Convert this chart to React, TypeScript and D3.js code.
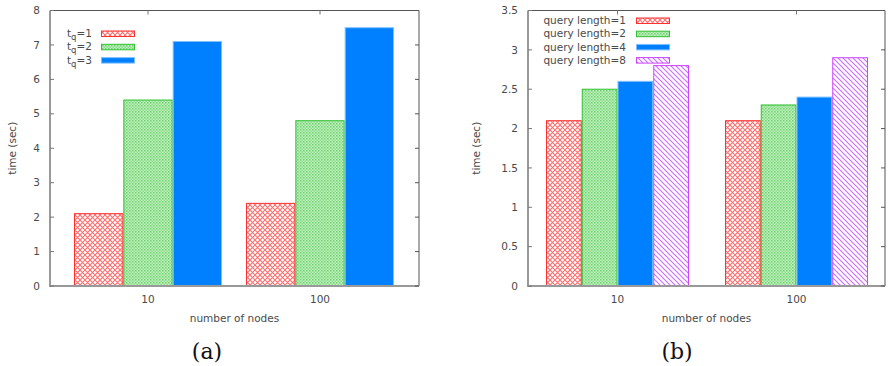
import React from "react";
import * as d3 from "d3";

const categories = ["10", "100"];
const seriesA = ["1", "2", "3"];
const valuesA = [
  [2.1, 2.4],
  [5.4, 4.8],
  [7.1, 7.5],
];
const ticksA = [0, 1, 2, 3, 4, 5, 6, 7, 8];

const seriesB = ["query length=1", "query length=2", "query length=4", "query length=8"];
const valuesB = [
  [2.1, 2.1],
  [2.5, 2.3],
  [2.6, 2.4],
  [2.8, 2.9],
];
const ticksB = [0, 0.5, 1, 1.5, 2, 2.5, 3, 3.5];

const FILLS = ["url(#pRed)", "url(#pGreen)", "#0080ff", "url(#pPurple)"];
const STROKES = ["#ff3030", "#33c033", "#80c0ff", "#cc44ff"];
const FONT = "'DejaVu Sans', sans-serif";
const TXT = "#4a4a4a";

type PanelProps = {
  left: number; right: number; top: number; bottom: number;
  yMax: number; ticks: number[]; values: number[][];
  centers: [number, number]; groupW: number;
  legendTextX: number; legendSwX: number; legendY0: number; legendDy: number;
  legend: (i: number) => React.ReactNode;
  ylabelX: number; caption: string; captionX: number;
  fills: string[]; strokes: string[];
};

function Panel(p: PanelProps) {
  const y = d3.scaleLinear().domain([0, p.yMax]).range([p.bottom, p.top]);
  const xc = d3.scaleLinear().domain([0, 1]).range(p.centers);
  const inner = d3.scaleBand<number>().domain(d3.range(p.values.length)).range([-p.groupW / 2, p.groupW / 2]);
  const fmt = (v: number) => String(v);
  const midY = (p.top + p.bottom) / 2;
  return (
    <g fontFamily={FONT} fontSize={10.5} fill={TXT}>
      {p.values.map((vals, si) =>
        vals.map((v, ci) => (
          <rect key={`${si}-${ci}`}
            x={xc(ci) + (inner(si) as number) + 0.5}
            y={y(v)}
            width={inner.bandwidth() - 1}
            height={y(0) - y(v)}
            fill={p.fills[si]} stroke={p.strokes[si]} strokeWidth={1} />
        ))
      )}
      <line x1={p.left} x2={p.right} y1={p.top} y2={p.top} stroke="#555" strokeWidth={1} />
      <line x1={p.right} x2={p.right} y1={p.top} y2={p.bottom} stroke="#555" strokeWidth={1} />
      <line x1={p.left} x2={p.left} y1={p.top} y2={p.bottom + 1} stroke="#999" strokeWidth={2} />
      <line x1={p.left - 1} x2={p.right} y1={p.bottom} y2={p.bottom} stroke="#999" strokeWidth={2} />
      {p.ticks.map((t) => (
        <g key={t}>
          <line x1={p.left} x2={p.left + 4} y1={y(t)} y2={y(t)} stroke="#777" />
          <line x1={p.right - 4} x2={p.right} y1={y(t)} y2={y(t)} stroke="#555" />
          <text x={p.left - 10} y={y(t)} dy="0.35em" textAnchor="end">{fmt(t)}</text>
        </g>
      ))}
      {categories.map((c, i) => (
        <g key={c}>
          <line x1={xc(i)} x2={xc(i)} y1={p.top} y2={p.top + 4} stroke="#777" />
          <text x={xc(i)} y={p.bottom + 13} dy="0.35em" textAnchor="middle">{c}</text>
        </g>
      ))}
      <text x={(p.left + p.right) / 2} y={p.bottom + 32} dy="0.35em" textAnchor="middle">number of nodes</text>
      <text transform={`translate(${p.ylabelX},${midY}) rotate(-90)`} dy="0.35em" textAnchor="middle">time (sec)</text>
      {p.values.map((_, si) => {
        const ly = p.legendY0 + si * p.legendDy;
        return (
          <g key={si}>
            <text x={p.legendTextX} y={ly} dy="0.35em" textAnchor="end">{p.legend(si)}</text>
            <rect x={p.legendSwX} y={ly - 2.5} width={33} height={5.5} fill={p.fills[si]} stroke={p.strokes[si]} />
          </g>
        );
      })}
      <text x={p.captionX} y={359} textAnchor="middle" fontFamily="'DejaVu Serif', 'Liberation Serif', serif" fontSize={22} fill="#111">{p.caption}</text>
    </g>
  );
}

export default function App() {
  return (
    <svg width={889} height={366} style={{ position: "absolute", left: 0, top: 0, background: "#fff" }}>
      <defs>
        <pattern id="pRed" width={5} height={5} patternUnits="userSpaceOnUse">
          <rect width={5} height={5} fill="#fff" />
          <path d="M0,0 L5,5 M5,0 L0,5" stroke="#ff7070" strokeWidth={1.1} />
        </pattern>
        <pattern id="pGreen" width={3} height={3} patternUnits="userSpaceOnUse">
          <rect width={3} height={3} fill="#bdf0bd" />
          <rect width={1.5} height={1.5} fill="#6fd26f" />
          <rect x={1.5} y={1.5} width={1.5} height={1.5} fill="#8fdf8f" />
        </pattern>
        <pattern id="pPurple" width={5} height={5} patternUnits="userSpaceOnUse">
          <rect width={5} height={5} fill="#fff" />
          <path d="M-1,-1 L6,6 M-1,4 L1,6 M4,-1 L6,1" stroke="#d070ff" strokeWidth={1.2} />
        </pattern>
      </defs>
      <Panel left={50} right={419} top={10.5} bottom={286} yMax={8} ticks={ticksA}
        values={valuesA} centers={[148, 320]} groupW={148}
        legendTextX={92} legendSwX={101.5} legendY0={33.5} legendDy={13.3}
        legend={(i) => (<>t<tspan dy={3} fontSize={8.5}>q</tspan><tspan dy={-3}>{"=" + seriesA[i]}</tspan></>)}
        ylabelX={12} caption="(a)" captionX={207}
        fills={FILLS.slice(0, 3)} strokes={STROKES.slice(0, 3)} />
      <Panel left={528} right={885} top={10.5} bottom={286} yMax={3.5} ticks={ticksB}
        values={valuesB} centers={[617.5, 796.5]} groupW={143}
        legendTextX={626} legendSwX={636.5} legendY0={20.5} legendDy={13.2}
        legend={(i) => seriesB[i]}
        ylabelX={476} caption="(b)" captionX={677}
        fills={FILLS} strokes={STROKES} />
    </svg>
  );
}
